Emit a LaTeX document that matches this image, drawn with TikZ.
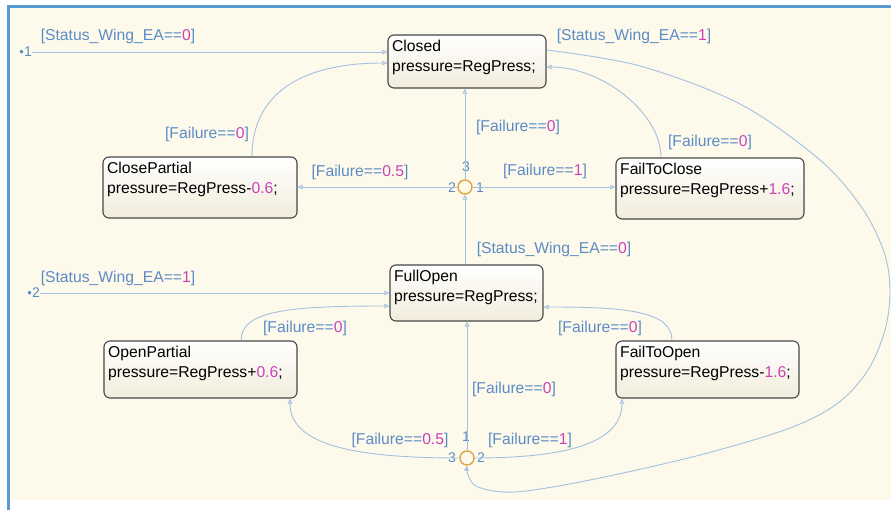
\documentclass[tikz,border=0pt]{standalone}
\usepackage{fontspec}
\setmainfont{Liberation Sans}
\usetikzlibrary{arrows.meta}

\definecolor{paper}{HTML}{FDFAEB}
\definecolor{frameblue}{HTML}{5B9BD5}
\definecolor{wire}{HTML}{A3C0DE}
\definecolor{guardblue}{HTML}{5C8CC6}
\definecolor{guardnum}{HTML}{C942B8}
\definecolor{junc}{HTML}{DFA445}
\definecolor{boxfill}{HTML}{F1ECDB}

\tikzset{
    state/.style={draw=black!72, line width=1.1pt, rounded corners=6pt, top color=white, bottom color=boxfill},
    stext/.style={anchor=north west, align=left, inner xsep=4.5pt, inner ysep=5.5pt, font=\fontsize{15.7}{19.5}\selectfont},
    trans/.style={draw=wire, line width=0.9pt, -{Triangle[open, length=5pt, width=4.5pt]}},
    guardlbl/.style={text=guardblue, inner sep=0pt, font=\fontsize{15.7}{18}\selectfont},
    junction/.style={circle, draw=junc, line width=1.4pt, fill=paper, minimum size=14pt, inner sep=0pt},
    portnum/.style={text=guardblue, inner sep=0pt, font=\fontsize{14}{16}\selectfont}
}

\begin{document}
\begin{tikzpicture}[x=1pt, y=1pt]
        \useasboundingbox (0,0) rectangle (891,-510);
        \fill[white] (0,0) rectangle (891,-510);
        \fill[paper] (10,-8) rectangle (891,-500);
        \draw[frameblue, line width=3pt] (8.5,-510) -- (8.5,-6.5) -- (891,-6.5);

        % states
        \node[state, minimum width=158pt, minimum height=53pt,
            label={[stext]north west:Closed\\pressure=RegPress;}] (closed) at (467,-61.5) {};
        \node[state, minimum width=153pt, minimum height=56pt,
            label={[stext]north west:FullOpen\\pressure=RegPress;}] (fo) at (466.5,-293) {};
        \node[state, minimum width=194pt, minimum height=61pt,
            label={[stext]north west:ClosePartial\\pressure=RegPress-\textcolor{guardnum}{0.6};}] (cp) at (200,-187.5) {};
        \node[state, minimum width=188pt, minimum height=61pt,
            label={[stext]north west:FailToClose\\pressure=RegPress+\textcolor{guardnum}{1.6};}] (ftc) at (710,-188.5) {};
        \node[state, minimum width=193pt, minimum height=57pt,
            label={[stext]north west:OpenPartial\\pressure=RegPress+\textcolor{guardnum}{0.6};}] (op) at (200.5,-369.5) {};
        \node[state, minimum width=183pt, minimum height=57pt,
            label={[stext]north west:FailToOpen\\pressure=RegPress-\textcolor{guardnum}{1.6};}] (fto) at (707.5,-369.5) {};

        % junctions and default entries
        \node[junction] (j1) at (465,-187) {};
        \node[junction] (j2) at (467,-458) {};
        \node[portnum, anchor=east] (def1) at (32,-52) {{\fontsize{13}{13}\selectfont\textbullet}1};
        \node[portnum, anchor=east] (def2) at (40,-293) {{\fontsize{13}{13}\selectfont\textbullet}2};
        \node[portnum] (j1a) at (480,-188) {1};
        \node[portnum] (j1b) at (452,-188) {2};
        \node[portnum] (j1c) at (466,-167) {3};
        \node[portnum] (j2a) at (466,-437) {1};
        \node[portnum] (j2b) at (481,-458) {2};
        \node[portnum] (j2c) at (452,-458) {3};

        % transitions
        \draw[trans] (def1.east) -- (def1.east -| closed.west);
        \draw[trans] (def2.east) -- (def2.east -| fo.west);
        \draw[trans] ([xshift=52]cp.north) .. controls +(0,60) and +(-90,0) .. ([yshift=-1.5]closed.west);
        \draw[trans] ([xshift=-49]ftc.north) .. controls +(0,45) and +(55,0) .. ([yshift=-5.5]closed.east);
        \draw[trans] (j1.north) -- (j1.north |- closed.south);
        \draw[trans] (j1.west) -- (j1.west -| cp.east);
        \draw[trans] (j1.east) -- (j1.east -| ftc.west);
        \draw[trans] (j1.south |- fo.north) -- (j1.south);
        \draw[trans] ([xshift=40.5]op.north) .. controls +(0,30) and +(-100,0) .. ([yshift=-13]fo.west);
        \draw[trans] ([xshift=-35.5]fto.north) .. controls +(0,30) and +(80,0) .. ([yshift=-14]fo.east);
        \draw[trans] (j2.north) -- (j2.north |- fo.south);
        \draw[trans] (j2.west) .. controls +(-110,0) and +(0,-45) .. ([xshift=89.5]op.south);
        \draw[trans] (j2.east) .. controls +(90,0) and +(0,-45) .. ([xshift=-85.5]fto.south);
        \draw[trans] plot[smooth, tension=0.55] coordinates {([yshift=11.5]closed.east)
            (640,-66) (740,-104) (820,-160) (862,-208) (884,-252) (890,-290) (885,-330)
            (868,-370) (838,-403) (790,-428) (700,-455) (590,-480) (515,-492) (478,-487)
            (468,-475) (j2.south)};

        % guards
        \foreach \x/\y/\g/\v [count=\i] in {118/-36/Status\_Wing\_EA==/0, 207/-134/Failure==/0,
            634/-36/Status\_Wing\_EA==/1, 518/-127/Failure==/0, 710/-142/Failure==/0,
            360/-172/Failure==/0.5, 545/-171/Failure==/1, 554/-249/Status\_Wing\_EA==/0,
            118/-278/Status\_Wing\_EA==/1, 305/-328/Failure==/0, 600/-328/Failure==/0,
            514/-389/Failure==/0, 400/-440/Failure==/0.5, 530/-440/Failure==/1} {
            \node[guardlbl] (g\i) at (\x,\y) {[\g\textcolor{guardnum}{\v}]};
        }
\end{tikzpicture}
\end{document}
